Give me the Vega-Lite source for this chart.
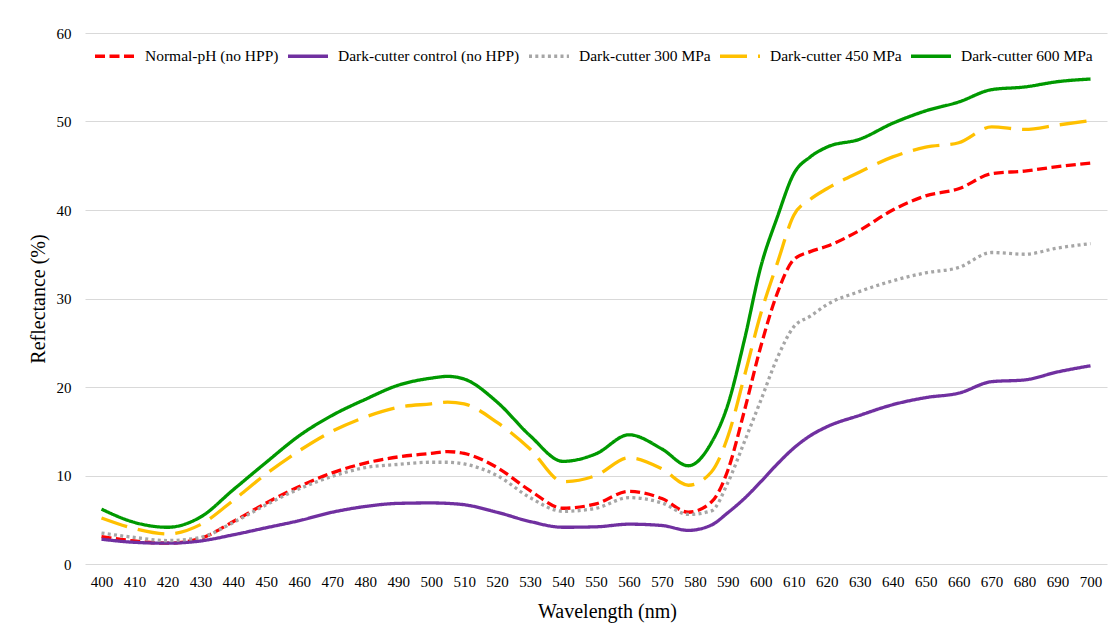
{
  "$schema": "https://vega.github.io/schema/vega-lite/v6.json",
  "width": 1022,
  "height": 531,
  "autosize": "none",
  "padding": {"left": 85, "top": 33, "right": 8, "bottom": 66},
  "background": "white",
  "config": {
    "view": {"stroke": null},
    "font": "Times New Roman, Liberation Serif, serif",
    "axis": {"labelFont": "Times New Roman, Liberation Serif, serif", "titleFont": "Times New Roman, Liberation Serif, serif", "labelColor": "#000000", "titleColor": "#000000", "labelFontSize": 15, "titleFontSize": 20, "titleFontWeight": "normal"},
    "legend": {"labelFont": "Times New Roman, Liberation Serif, serif"}
  },
  "datasets": {
    "spectra": [
      {"wl": 400, "s": "Normal-pH (no HPP)", "r": 3.1}, {"wl": 410, "s": "Normal-pH (no HPP)", "r": 2.6}, {"wl": 420, "s": "Normal-pH (no HPP)", "r": 2.35}, {"wl": 430, "s": "Normal-pH (no HPP)", "r": 2.9}, {"wl": 440, "s": "Normal-pH (no HPP)", "r": 4.8}, {"wl": 450, "s": "Normal-pH (no HPP)", "r": 6.9}, {"wl": 460, "s": "Normal-pH (no HPP)", "r": 8.75}, {"wl": 470, "s": "Normal-pH (no HPP)", "r": 10.3}, {"wl": 480, "s": "Normal-pH (no HPP)", "r": 11.4}, {"wl": 490, "s": "Normal-pH (no HPP)", "r": 12.1}, {"wl": 500, "s": "Normal-pH (no HPP)", "r": 12.5}, {"wl": 505, "s": "Normal-pH (no HPP)", "r": 12.7}, {"wl": 510, "s": "Normal-pH (no HPP)", "r": 12.5}, {"wl": 520, "s": "Normal-pH (no HPP)", "r": 10.9}, {"wl": 530, "s": "Normal-pH (no HPP)", "r": 8.3}, {"wl": 540, "s": "Normal-pH (no HPP)", "r": 6.3}, {"wl": 550, "s": "Normal-pH (no HPP)", "r": 6.8}, {"wl": 560, "s": "Normal-pH (no HPP)", "r": 8.2}, {"wl": 570, "s": "Normal-pH (no HPP)", "r": 7.4}, {"wl": 578, "s": "Normal-pH (no HPP)", "r": 5.85}, {"wl": 585, "s": "Normal-pH (no HPP)", "r": 7.0}, {"wl": 590, "s": "Normal-pH (no HPP)", "r": 10.6}, {"wl": 595, "s": "Normal-pH (no HPP)", "r": 17.3}, {"wl": 600, "s": "Normal-pH (no HPP)", "r": 24.6}, {"wl": 605, "s": "Normal-pH (no HPP)", "r": 30.6}, {"wl": 610, "s": "Normal-pH (no HPP)", "r": 34.4}, {"wl": 615, "s": "Normal-pH (no HPP)", "r": 35.3}, {"wl": 620, "s": "Normal-pH (no HPP)", "r": 35.9}, {"wl": 630, "s": "Normal-pH (no HPP)", "r": 37.7}, {"wl": 640, "s": "Normal-pH (no HPP)", "r": 40.0}, {"wl": 650, "s": "Normal-pH (no HPP)", "r": 41.6}, {"wl": 660, "s": "Normal-pH (no HPP)", "r": 42.4}, {"wl": 670, "s": "Normal-pH (no HPP)", "r": 44.1}, {"wl": 680, "s": "Normal-pH (no HPP)", "r": 44.4}, {"wl": 690, "s": "Normal-pH (no HPP)", "r": 44.9}, {"wl": 700, "s": "Normal-pH (no HPP)", "r": 45.3},

      {"wl": 400, "s": "Dark-cutter control (no HPP)", "r": 2.8}, {"wl": 410, "s": "Dark-cutter control (no HPP)", "r": 2.45}, {"wl": 420, "s": "Dark-cutter control (no HPP)", "r": 2.35}, {"wl": 430, "s": "Dark-cutter control (no HPP)", "r": 2.6}, {"wl": 440, "s": "Dark-cutter control (no HPP)", "r": 3.3}, {"wl": 450, "s": "Dark-cutter control (no HPP)", "r": 4.1}, {"wl": 460, "s": "Dark-cutter control (no HPP)", "r": 4.9}, {"wl": 470, "s": "Dark-cutter control (no HPP)", "r": 5.85}, {"wl": 480, "s": "Dark-cutter control (no HPP)", "r": 6.5}, {"wl": 490, "s": "Dark-cutter control (no HPP)", "r": 6.85}, {"wl": 500, "s": "Dark-cutter control (no HPP)", "r": 6.9}, {"wl": 505, "s": "Dark-cutter control (no HPP)", "r": 6.85}, {"wl": 510, "s": "Dark-cutter control (no HPP)", "r": 6.7}, {"wl": 520, "s": "Dark-cutter control (no HPP)", "r": 5.85}, {"wl": 530, "s": "Dark-cutter control (no HPP)", "r": 4.8}, {"wl": 540, "s": "Dark-cutter control (no HPP)", "r": 4.15}, {"wl": 550, "s": "Dark-cutter control (no HPP)", "r": 4.2}, {"wl": 560, "s": "Dark-cutter control (no HPP)", "r": 4.5}, {"wl": 570, "s": "Dark-cutter control (no HPP)", "r": 4.35}, {"wl": 578, "s": "Dark-cutter control (no HPP)", "r": 3.8}, {"wl": 585, "s": "Dark-cutter control (no HPP)", "r": 4.4}, {"wl": 590, "s": "Dark-cutter control (no HPP)", "r": 5.8}, {"wl": 595, "s": "Dark-cutter control (no HPP)", "r": 7.4}, {"wl": 600, "s": "Dark-cutter control (no HPP)", "r": 9.3}, {"wl": 605, "s": "Dark-cutter control (no HPP)", "r": 11.3}, {"wl": 610, "s": "Dark-cutter control (no HPP)", "r": 13.1}, {"wl": 615, "s": "Dark-cutter control (no HPP)", "r": 14.5}, {"wl": 620, "s": "Dark-cutter control (no HPP)", "r": 15.5}, {"wl": 630, "s": "Dark-cutter control (no HPP)", "r": 16.8}, {"wl": 640, "s": "Dark-cutter control (no HPP)", "r": 18.0}, {"wl": 650, "s": "Dark-cutter control (no HPP)", "r": 18.8}, {"wl": 660, "s": "Dark-cutter control (no HPP)", "r": 19.3}, {"wl": 670, "s": "Dark-cutter control (no HPP)", "r": 20.6}, {"wl": 680, "s": "Dark-cutter control (no HPP)", "r": 20.8}, {"wl": 690, "s": "Dark-cutter control (no HPP)", "r": 21.7}, {"wl": 700, "s": "Dark-cutter control (no HPP)", "r": 22.4},

      {"wl": 400, "s": "Dark-cutter 300 MPa", "r": 3.5}, {"wl": 410, "s": "Dark-cutter 300 MPa", "r": 3.0}, {"wl": 420, "s": "Dark-cutter 300 MPa", "r": 2.65}, {"wl": 430, "s": "Dark-cutter 300 MPa", "r": 3.0}, {"wl": 440, "s": "Dark-cutter 300 MPa", "r": 4.7}, {"wl": 450, "s": "Dark-cutter 300 MPa", "r": 6.7}, {"wl": 460, "s": "Dark-cutter 300 MPa", "r": 8.5}, {"wl": 470, "s": "Dark-cutter 300 MPa", "r": 9.9}, {"wl": 480, "s": "Dark-cutter 300 MPa", "r": 10.9}, {"wl": 490, "s": "Dark-cutter 300 MPa", "r": 11.25}, {"wl": 500, "s": "Dark-cutter 300 MPa", "r": 11.5}, {"wl": 505, "s": "Dark-cutter 300 MPa", "r": 11.5}, {"wl": 510, "s": "Dark-cutter 300 MPa", "r": 11.3}, {"wl": 520, "s": "Dark-cutter 300 MPa", "r": 10.0}, {"wl": 530, "s": "Dark-cutter 300 MPa", "r": 7.5}, {"wl": 540, "s": "Dark-cutter 300 MPa", "r": 5.95}, {"wl": 550, "s": "Dark-cutter 300 MPa", "r": 6.3}, {"wl": 560, "s": "Dark-cutter 300 MPa", "r": 7.5}, {"wl": 570, "s": "Dark-cutter 300 MPa", "r": 6.9}, {"wl": 578, "s": "Dark-cutter 300 MPa", "r": 5.6}, {"wl": 585, "s": "Dark-cutter 300 MPa", "r": 6.0}, {"wl": 590, "s": "Dark-cutter 300 MPa", "r": 9.2}, {"wl": 595, "s": "Dark-cutter 300 MPa", "r": 13.8}, {"wl": 600, "s": "Dark-cutter 300 MPa", "r": 18.5}, {"wl": 605, "s": "Dark-cutter 300 MPa", "r": 23.3}, {"wl": 610, "s": "Dark-cutter 300 MPa", "r": 26.8}, {"wl": 615, "s": "Dark-cutter 300 MPa", "r": 28.0}, {"wl": 620, "s": "Dark-cutter 300 MPa", "r": 29.3}, {"wl": 630, "s": "Dark-cutter 300 MPa", "r": 30.8}, {"wl": 640, "s": "Dark-cutter 300 MPa", "r": 32.0}, {"wl": 650, "s": "Dark-cutter 300 MPa", "r": 32.9}, {"wl": 660, "s": "Dark-cutter 300 MPa", "r": 33.5}, {"wl": 670, "s": "Dark-cutter 300 MPa", "r": 35.2}, {"wl": 680, "s": "Dark-cutter 300 MPa", "r": 35.0}, {"wl": 690, "s": "Dark-cutter 300 MPa", "r": 35.7}, {"wl": 700, "s": "Dark-cutter 300 MPa", "r": 36.2},

      {"wl": 400, "s": "Dark-cutter 450 MPa", "r": 5.2}, {"wl": 410, "s": "Dark-cutter 450 MPa", "r": 4.0}, {"wl": 420, "s": "Dark-cutter 450 MPa", "r": 3.4}, {"wl": 430, "s": "Dark-cutter 450 MPa", "r": 4.45}, {"wl": 440, "s": "Dark-cutter 450 MPa", "r": 7.2}, {"wl": 450, "s": "Dark-cutter 450 MPa", "r": 10.2}, {"wl": 460, "s": "Dark-cutter 450 MPa", "r": 12.8}, {"wl": 470, "s": "Dark-cutter 450 MPa", "r": 15.0}, {"wl": 480, "s": "Dark-cutter 450 MPa", "r": 16.6}, {"wl": 490, "s": "Dark-cutter 450 MPa", "r": 17.7}, {"wl": 500, "s": "Dark-cutter 450 MPa", "r": 18.1}, {"wl": 505, "s": "Dark-cutter 450 MPa", "r": 18.3}, {"wl": 510, "s": "Dark-cutter 450 MPa", "r": 18.1}, {"wl": 520, "s": "Dark-cutter 450 MPa", "r": 16.0}, {"wl": 530, "s": "Dark-cutter 450 MPa", "r": 13.0}, {"wl": 540, "s": "Dark-cutter 450 MPa", "r": 9.3}, {"wl": 550, "s": "Dark-cutter 450 MPa", "r": 10.0}, {"wl": 560, "s": "Dark-cutter 450 MPa", "r": 12.0}, {"wl": 570, "s": "Dark-cutter 450 MPa", "r": 10.75}, {"wl": 578, "s": "Dark-cutter 450 MPa", "r": 8.9}, {"wl": 585, "s": "Dark-cutter 450 MPa", "r": 10.4}, {"wl": 590, "s": "Dark-cutter 450 MPa", "r": 14.4}, {"wl": 595, "s": "Dark-cutter 450 MPa", "r": 21.2}, {"wl": 600, "s": "Dark-cutter 450 MPa", "r": 28.3}, {"wl": 605, "s": "Dark-cutter 450 MPa", "r": 34.0}, {"wl": 610, "s": "Dark-cutter 450 MPa", "r": 39.4}, {"wl": 615, "s": "Dark-cutter 450 MPa", "r": 41.2}, {"wl": 620, "s": "Dark-cutter 450 MPa", "r": 42.4}, {"wl": 630, "s": "Dark-cutter 450 MPa", "r": 44.3}, {"wl": 640, "s": "Dark-cutter 450 MPa", "r": 46.0}, {"wl": 650, "s": "Dark-cutter 450 MPa", "r": 47.1}, {"wl": 660, "s": "Dark-cutter 450 MPa", "r": 47.6}, {"wl": 670, "s": "Dark-cutter 450 MPa", "r": 49.4}, {"wl": 680, "s": "Dark-cutter 450 MPa", "r": 49.1}, {"wl": 690, "s": "Dark-cutter 450 MPa", "r": 49.6}, {"wl": 700, "s": "Dark-cutter 450 MPa", "r": 50.1},

      {"wl": 400, "s": "Dark-cutter 600 MPa", "r": 6.2}, {"wl": 410, "s": "Dark-cutter 600 MPa", "r": 4.7}, {"wl": 420, "s": "Dark-cutter 600 MPa", "r": 4.15}, {"wl": 430, "s": "Dark-cutter 600 MPa", "r": 5.3}, {"wl": 440, "s": "Dark-cutter 600 MPa", "r": 8.4}, {"wl": 450, "s": "Dark-cutter 600 MPa", "r": 11.5}, {"wl": 460, "s": "Dark-cutter 600 MPa", "r": 14.5}, {"wl": 470, "s": "Dark-cutter 600 MPa", "r": 16.8}, {"wl": 480, "s": "Dark-cutter 600 MPa", "r": 18.6}, {"wl": 490, "s": "Dark-cutter 600 MPa", "r": 20.2}, {"wl": 500, "s": "Dark-cutter 600 MPa", "r": 21.0}, {"wl": 505, "s": "Dark-cutter 600 MPa", "r": 21.2}, {"wl": 510, "s": "Dark-cutter 600 MPa", "r": 20.9}, {"wl": 520, "s": "Dark-cutter 600 MPa", "r": 18.3}, {"wl": 530, "s": "Dark-cutter 600 MPa", "r": 14.5}, {"wl": 540, "s": "Dark-cutter 600 MPa", "r": 11.6}, {"wl": 550, "s": "Dark-cutter 600 MPa", "r": 12.45}, {"wl": 560, "s": "Dark-cutter 600 MPa", "r": 14.6}, {"wl": 570, "s": "Dark-cutter 600 MPa", "r": 13.0}, {"wl": 578, "s": "Dark-cutter 600 MPa", "r": 11.1}, {"wl": 585, "s": "Dark-cutter 600 MPa", "r": 13.7}, {"wl": 590, "s": "Dark-cutter 600 MPa", "r": 18.0}, {"wl": 595, "s": "Dark-cutter 600 MPa", "r": 25.3}, {"wl": 600, "s": "Dark-cutter 600 MPa", "r": 33.6}, {"wl": 605, "s": "Dark-cutter 600 MPa", "r": 39.2}, {"wl": 610, "s": "Dark-cutter 600 MPa", "r": 44.1}, {"wl": 615, "s": "Dark-cutter 600 MPa", "r": 46.0}, {"wl": 620, "s": "Dark-cutter 600 MPa", "r": 47.1}, {"wl": 630, "s": "Dark-cutter 600 MPa", "r": 48.0}, {"wl": 640, "s": "Dark-cutter 600 MPa", "r": 49.8}, {"wl": 650, "s": "Dark-cutter 600 MPa", "r": 51.2}, {"wl": 660, "s": "Dark-cutter 600 MPa", "r": 52.2}, {"wl": 670, "s": "Dark-cutter 600 MPa", "r": 53.6}, {"wl": 680, "s": "Dark-cutter 600 MPa", "r": 53.9}, {"wl": 690, "s": "Dark-cutter 600 MPa", "r": 54.5}, {"wl": 700, "s": "Dark-cutter 600 MPa", "r": 54.8}
    ]
  },
  "data": {"name": "spectra"},
  "mark": {"type": "line", "interpolate": "monotone", "strokeWidth": 3.3, "strokeCap": "butt"},
  "encoding": {
    "x": {
      "field": "wl", "type": "quantitative",
      "scale": {"domain": [395, 705], "nice": false, "zero": false},
      "axis": {"title": "Wavelength (nm)", "titleX": 522, "values": [400,410,420,430,440,450,460,470,480,490,500,510,520,530,540,550,560,570,580,590,600,610,620,630,640,650,660,670,680,690,700], "grid": false, "ticks": false, "domain": false, "labelPadding": 10, "titlePadding": 12, "labelFlush": false}
    },
    "y": {
      "field": "r", "type": "quantitative",
      "scale": {"domain": [0, 60], "nice": false},
      "axis": {"title": "Reflectance (%)", "values": [0,10,20,30,40,50,60], "grid": true, "gridColor": "#D9D9D9", "gridWidth": 1.2, "ticks": false, "domain": false, "labelPadding": 14, "titlePadding": 8}
    },
    "color": {
      "field": "s", "type": "nominal",
      "scale": {"domain": ["Normal-pH (no HPP)", "Dark-cutter control (no HPP)", "Dark-cutter 300 MPa", "Dark-cutter 450 MPa", "Dark-cutter 600 MPa"], "range": ["#FF0000", "#7030A0", "#A6A6A6", "#FFC000", "#009900"]},
      "legend": {"orient": "none", "legendX": 8, "legendY": 1, "direction": "horizontal", "columns": 5, "title": null, "symbolType": "stroke", "symbolSize": 1600, "symbolStrokeWidth": 3.3, "labelFontSize": 15.5, "labelColor": "#000000", "labelOffset": 8, "columnPadding": 2, "padding": 0, "labelLimit": 400}
    },
    "strokeDash": {
      "field": "s", "type": "nominal",
      "scale": {"domain": ["Normal-pH (no HPP)", "Dark-cutter control (no HPP)", "Dark-cutter 300 MPa", "Dark-cutter 450 MPa", "Dark-cutter 600 MPa"], "range": [[10, 4.5], [1, 0], [3, 3.3], [27, 11], [1, 0]]}
    }
  }
}
